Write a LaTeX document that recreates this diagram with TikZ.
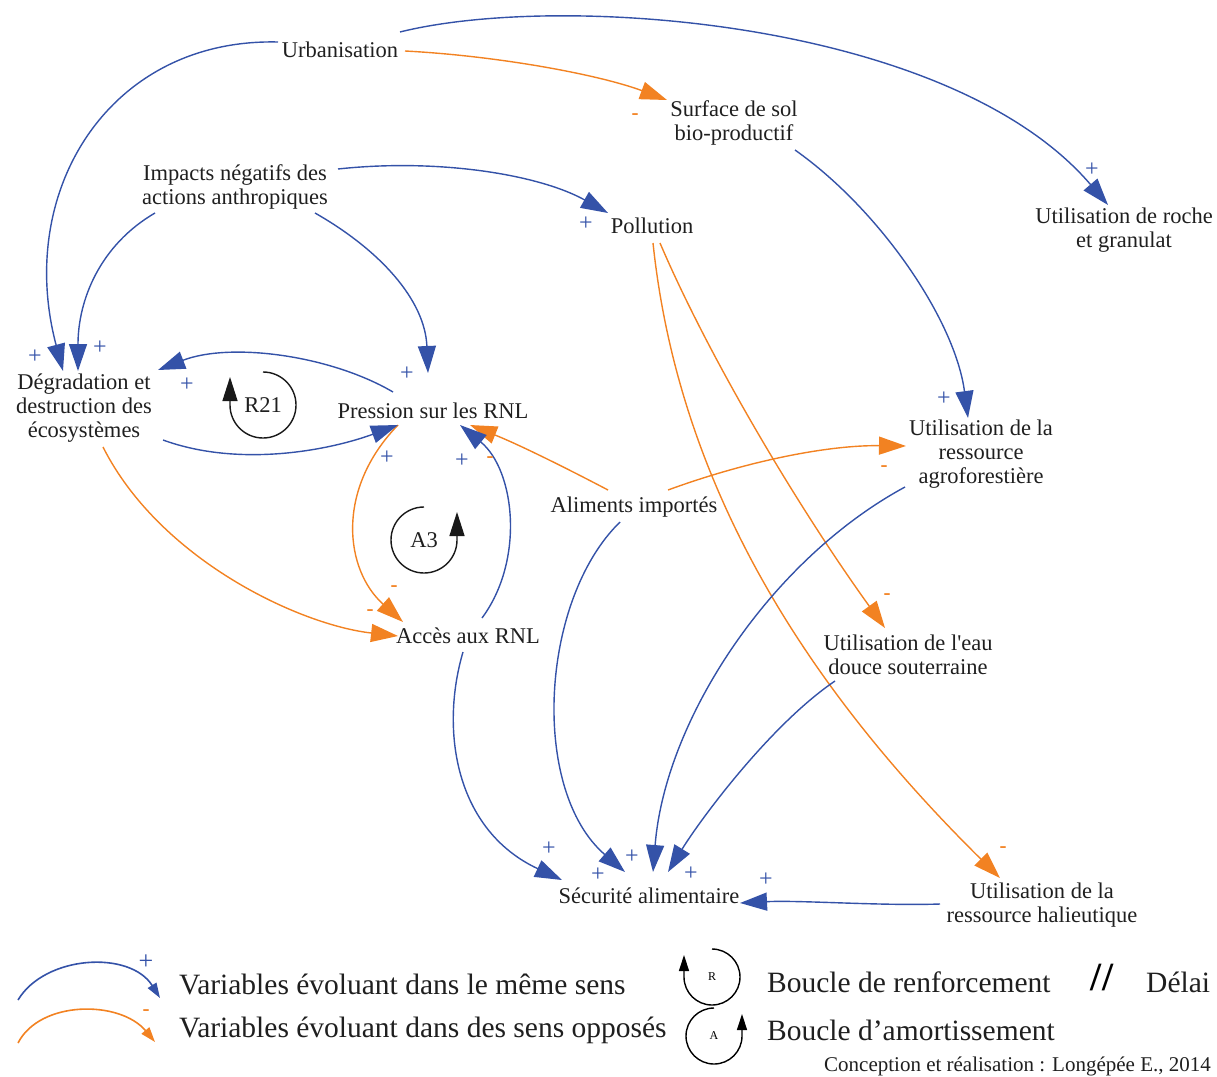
\documentclass[tikz,border=0pt]{standalone}
\usepackage{fontspec}
\setmainfont{Liberation Serif}
\usetikzlibrary{arrows.meta}
\definecolor{cblue}{RGB}{52,82,168}
\definecolor{corange}{RGB}{242,130,34}
\newcommand\nfont{\fontsize{22.5}{24}\selectfont}
\newcommand\sfont{\fontsize{24}{24}\selectfont}
\newcommand\mfont{\fontsize{21}{21}\selectfont}
\newcommand\legfont{\fontsize{29.5}{30}\selectfont}
\tikzset{
  lbl/.style={font=\nfont, align=center, inner sep=2pt, text=black!88},
  posarr/.style={draw=cblue, line width=1.4pt, -{Triangle[length=27pt,width=18pt]}},
  negarr/.style={draw=corange, line width=1.4pt, -{Triangle[length=27pt,width=18pt]}},
  plus/.style={font=\sfont, text=cblue, inner sep=0pt},
  minus/.style={font=\mfont\bfseries, text=corange, inner sep=0pt},
  loopline/.style={draw=black!90, line width=1.4pt, -{Triangle[length=24pt,width=15pt]}},
  legtext/.style={font=\legfont, anchor=west, inner sep=0pt, text=black!88},
}
\begin{document}
\begin{tikzpicture}[x=1pt,y=-1pt]
\useasboundingbox (0,0) rectangle (1217,1076);
% nodes
\node[lbl] (urb) at (340,50) {Urbanisation};
\node[lbl] (surf) at (734,123) {Surface de sol\\bio-productif};
\node[lbl] (imp) at (235,187) {Impacts négatifs des\\actions anthropiques};
\node[lbl] (pol) at (652,226) {Pollution};
\node[lbl] (roche) at (1124,230) {Utilisation de roche\\et granulat};
\node[lbl] (deg) at (84,408) {Dégradation et\\destruction des\\écosystèmes};
\node[lbl] (pres) at (433,411) {Pression sur les RNL};
\node[lbl] (agro) at (981,454) {Utilisation de la\\ressource\\agroforestière};
\node[lbl] (alim) at (634,507) {Aliments importés};
\node[lbl] (acc) at (468,636) {Accès aux RNL};
\node[lbl] (eau) at (908,655) {Utilisation de l\textquotesingle eau\\douce souterraine};
\node[lbl] (secu) at (649,896) {Sécurité alimentaire};
\node[lbl] (hal) at (1042,905) {Utilisation de la\\ressource halieutique};
% connectors
\draw[posarr] ([shift={(-62,-8)}]urb.center) .. controls (110,38) and (15,190) .. ([shift={(-21,-37)}]deg.center);
\draw[posarr] ([shift={(-80,26)}]imp.center) .. controls (100,245) and (78,300) .. ([shift={(-6,-37)}]deg.center);
\draw[posarr] ([shift={(80,26)}]imp.center) .. controls (380,250) and (425,300) .. ([shift={(-5,-38)}]pres.center);
\draw[posarr] ([shift={(103,-18)}]imp.center) .. controls (440,158) and (540,175) .. ([shift={(-44,-13)}]pol.center);
\draw[negarr] ([shift={(65,1)}]urb.center) .. controls (500,56) and (600,75) .. ([shift={(-67,-23)}]surf.center);
\draw[posarr] ([shift={(60,-18)}]urb.center) .. controls (560,-8) and (950,20) .. ([shift={(-16,-25)}]roche.center);
\draw[posarr] ([shift={(61,27)}]surf.center) .. controls (880,210) and (955,320) .. ([shift={(-13,-36)}]agro.center);
\draw[negarr] ([shift={(8,17)}]pol.center) .. controls (710,360) and (800,510) .. ([shift={(-23,-27)}]eau.center);
\draw[negarr] ([shift={(1,17)}]pol.center) .. controls (680,500) and (820,700) .. ([shift={(-42,-27)}]hal.center);
\draw[negarr] ([shift={(-26,-17)}]alim.center) .. controls (570,470) and (520,445) .. ([shift={(37,14)}]pres.center);
\draw[negarr] ([shift={(34,-17)}]alim.center) .. controls (750,460) and (830,445) .. ([shift={(-75,-8)}]agro.center);
\draw[posarr] ([shift={(-14,15)}]alim.center) .. controls (540,600) and (530,790) .. ([shift={(-24,-24)}]secu.center);
\draw[posarr] ([shift={(-76,33)}]agro.center) .. controls (770,560) and (665,720) .. ([shift={(4,-24)}]secu.center);
\draw[posarr] ([shift={(-73,26)}]eau.center) .. controls (770,725) and (700,820) .. ([shift={(19,-24)}]secu.center);
\draw[posarr] ([shift={(-102,-1)}]hal.center) .. controls (880,906) and (800,900) .. ([shift={(91,7)}]secu.center);
\draw[posarr] ([shift={(-5,16)}]acc.center) .. controls (440,730) and (455,830) .. ([shift={(-87,-16)}]secu.center);
\draw[posarr] ([shift={(14,-18)}]acc.center) .. controls (525,560) and (515,470) .. ([shift={(27,14)}]pres.center);
\draw[negarr] ([shift={(-35,14)}]pres.center) .. controls (335,490) and (345,570) .. ([shift={(-65,-14)}]acc.center);
\draw[posarr] ([shift={(79,32)}]deg.center) .. controls (240,468) and (330,450) .. ([shift={(-35,14)}]pres.center);
\draw[posarr] ([shift={(-40,-19)}]pres.center) .. controls (330,355) and (230,342) .. ([shift={(74,-38)}]deg.center);
\draw[negarr] ([shift={(19,39)}]deg.center) .. controls (160,560) and (300,625) .. ([shift={(-70,0)}]acc.center);
% signs
\node[plus] (p1) at (35,357) {+};
\node[plus] (p2) at (100,348) {+};
\node[plus] (p3) at (187,385) {+};
\node[plus] (p4) at (407,374) {+};
\node[plus] (p5) at (387,458) {+};
\node[plus] (p6) at (462,461) {+};
\node[plus] (p7) at (586,224) {+};
\node[plus] (p8) at (1092,170) {+};
\node[plus] (p9) at (944,399) {+};
\node[plus] (p10) at (549,849) {+};
\node[plus] (p11) at (632,857) {+};
\node[plus] (p12) at (598,875) {+};
\node[plus] (p13) at (691,874) {+};
\node[plus] (p14) at (766,880) {+};
\node[minus] (m1) at (490,460) {-};
\node[minus] (m2) at (394,589) {-};
\node[minus] (m3) at (370,613) {-};
\node[minus] (m4) at (635,117) {-};
\node[minus] (m5) at (884,469) {-};
\node[minus] (m6) at (887,597) {-};
\node[minus] (m7) at (1003,850) {-};
% loops
\node[lbl] (r21) at (263,405) {R21};
\draw[loopline] ([shift={(0,-33)}]r21.center) arc[start angle=90,end angle=-180,radius=33pt] -- ++(0,-28);
\node[lbl] (a3) at (424,540) {A3};
\draw[loopline] ([shift={(0,-33)}]a3.center) arc[start angle=90,end angle=360,radius=33pt] -- ++(0,-28);
% legend
\coordinate (lb1) at (18,1000);
\coordinate (lb2) at (160,998);
\draw[draw=cblue, line width=1.6pt, -{Triangle[length=15pt,width=10pt]}] (lb1) .. controls (45,955) and (130,950) .. (lb2);
\coordinate (lo1) at (18,1043);
\coordinate (lo2) at (155,1042);
\draw[draw=corange, line width=1.6pt, -{Triangle[length=15pt,width=10pt]}] (lo1) .. controls (40,1000) and (120,1000) .. (lo2);
\node[plus, font=\fontsize{26}{26}\selectfont] (lp) at (146,962) {+};
\node[minus] (lm) at (146,1013) {-};
\node[legtext] (t1) at (179,984) {Variables évoluant dans le même sens};
\node[legtext] (t2) at (179,1030) {Variables évoluant dans des sens opposés};
\node[font=\fontsize{12}{12}\selectfont, inner sep=0pt] (lr) at (712,977) {R};
\draw[draw=black, line width=1.4pt, -{Triangle[length=16pt,width=10pt]}] ([shift={(0,-28)}]lr.center) arc[start angle=90,end angle=-180,radius=28pt] -- ++(0,-22);
\node[font=\fontsize{12}{12}\selectfont, inner sep=0pt] (la) at (714,1036) {A};
\draw[draw=black, line width=1.4pt, -{Triangle[length=16pt,width=10pt]}] ([shift={(0,-28)}]la.center) arc[start angle=90,end angle=360,radius=28pt] -- ++(0,-22);
\node[legtext] (t3) at (767,982) {Boucle de renforcement};
\node[legtext] (t4) at (767,1030) {Boucle d’amortissement};
\node[font=\fontsize{40}{40}\selectfont\bfseries, inner sep=0pt] (dl) at (1102,978) {//};
\node[legtext] (t5) at (1146,982) {Délai};
\node[font=\fontsize{21}{21}\selectfont, anchor=east, inner sep=0pt, text=black!88] (foot) at (1211,1066) {Conception et réalisation : Longépée E., 2014};
\end{tikzpicture}
\end{document}
